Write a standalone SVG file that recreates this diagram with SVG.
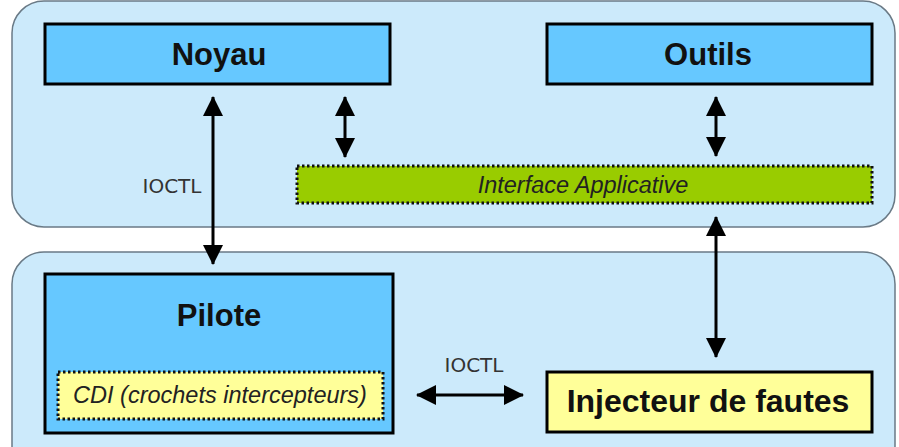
<svg xmlns="http://www.w3.org/2000/svg" width="899" height="447" viewBox="0 0 899 447">
<defs>
<style>
.cont{fill:#cceafb;stroke:#6a7a86;stroke-width:1.5}
.box{fill:#66c8ff;stroke:#000;stroke-width:3}
.dot{stroke:#111;stroke-width:3;stroke-dasharray:2.5 2.5}
.bt{font-family:"Liberation Sans",Arial,sans-serif;font-weight:bold;font-size:31px;fill:#111;text-anchor:middle}
.it{font-family:"Liberation Sans",Arial,sans-serif;font-style:italic;font-size:23.5px;fill:#222;text-anchor:middle}
.lbl{font-family:"DejaVu Sans",Verdana,sans-serif;font-size:20px;fill:#333;text-anchor:middle}
.ar{stroke:#000;stroke-width:3;fill:none;marker-start:url(#ah);marker-end:url(#ah)}
</style>
<marker id="ah" viewBox="0 0 20 20" refX="19" refY="10" markerWidth="20" markerHeight="20" markerUnits="userSpaceOnUse" orient="auto-start-reverse">
<path d="M0,0 L20,10 L0,20 Z" fill="#000"/>
</marker>
</defs>
<g id="haut"><rect class="cont" x="12" y="1" width="883" height="226" rx="32"/></g>
<g id="bas"><rect class="cont" x="12" y="252" width="883" height="226" rx="32"/></g>
<g id="noyau"><rect class="box" x="45" y="24" width="345" height="60"/><text class="bt" x="219" y="65">Noyau</text></g>
<g id="outils"><rect class="box" x="547" y="24" width="325" height="60"/><text class="bt" x="708" y="65">Outils</text></g>
<g id="interface"><rect class="dot" fill="#99cc00" x="297" y="166" width="575" height="37"/><text class="it" x="583" y="193">Interface Applicative</text></g>
<g id="pilote"><rect class="box" x="45" y="274" width="348" height="159"/><text class="bt" x="219" y="326">Pilote</text>
<g id="cdi"><rect class="dot" fill="#ffff99" x="58" y="372" width="325" height="47"/><text class="it" x="220" y="403">CDI (crochets intercepteurs)</text></g></g>
<g id="injecteur"><rect fill="#ffff99" stroke="#000" stroke-width="3" x="547" y="372" width="325" height="60"/><text class="bt" x="708" y="412" style="font-size:32px">Injecteur de fautes</text></g>
<g id="connecteurs">
<line class="ar" x1="213" y1="97" x2="213" y2="264"/>
<line class="ar" x1="345" y1="97" x2="345" y2="157"/>
<line class="ar" x1="716" y1="97" x2="716" y2="156"/>
<line class="ar" x1="716" y1="217" x2="716" y2="357"/>
<line class="ar" x1="417" y1="395" x2="523" y2="395"/>
<text class="lbl" x="172" y="193">IOCTL</text>
<text class="lbl" x="474" y="372">IOCTL</text>
</g>
</svg>
